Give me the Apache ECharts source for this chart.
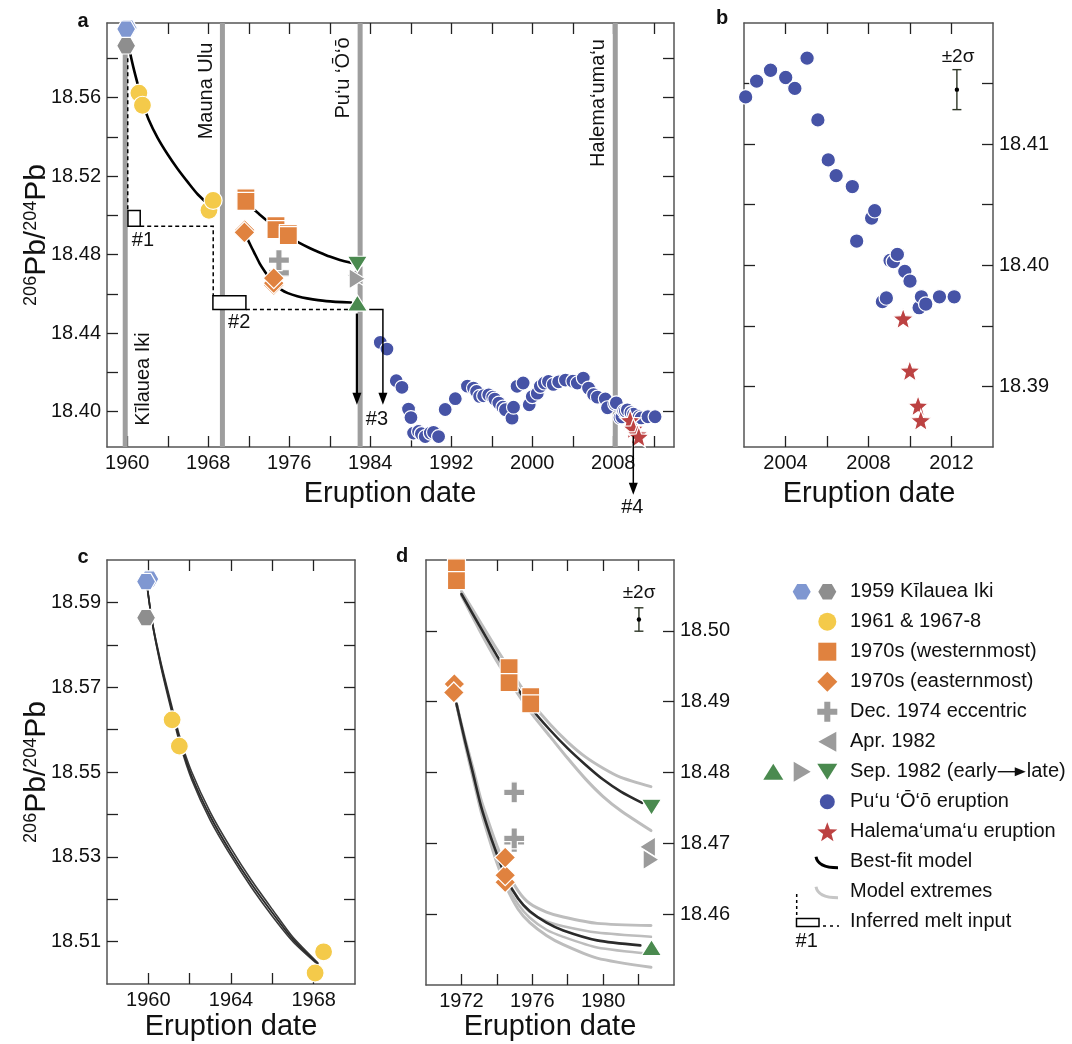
<!DOCTYPE html>
<html>
<head>
<meta charset="utf-8">
<script src="https://cdn.jsdelivr.net/npm/echarts@6/dist/echarts.min.js"></script>
<style>
html,body{margin:0;padding:0;background:#fff}
#fig{width:1072px;height:1044px}
</style>
</head>
<body>
<div id="fig"></div>
<script>
// ---- data (year, 206Pb/204Pb) ----
var kilaueaIkiBlue = [[1960.05, 18.5955], [1959.89, 18.5949]];
var kilaueaIkiGrey = [[1959.89, 18.5864]];
var eruption1961_1967 = [[1961.15, 18.5623], [1961.5, 18.5561], [1968.07, 18.5026], [1968.48, 18.5076]];
var west1970s = [[1971.72, 18.5089], [1971.72, 18.5071], [1974.69, 18.4948], [1974.69, 18.4927], [1975.91, 18.4907], [1975.91, 18.4897]];
var east1970s = [[1971.6, 18.4925], [1971.57, 18.4913], [1974.47, 18.4645], [1974.47, 18.4655], [1974.47, 18.4680]];
var dec1974 = [[1974.98, 18.4702], [1974.98, 18.4707], [1974.98, 18.4772]];
var apr1982 = [[1982.5, 18.4695]];
var sep1982Early = [[1982.73, 18.4553]];
var sep1982Mid = [[1982.71, 18.4677]];
var sep1982Late = [[1982.73, 18.4751]];
var puuOoEarly = [[1984.99,18.4353],[1985.65,18.4319],[1986.57,18.4158],[1987.13,18.4124],[1987.78,18.4013],[1988.02,18.3970],[1988.28,18.3891],[1988.77,18.3899],[1989.05,18.3888],[1989.43,18.3873],[1989.93,18.3891],[1990.25,18.3895],[1990.75,18.3873],[1991.4,18.4011],[1992.4,18.4066],[1993.6,18.4130],[1994.2,18.4120],[1994.5,18.4103],[1994.8,18.4078],[1995.2,18.4081],[1995.7,18.4086],[1996.1,18.4074],[1996.3,18.4064],[1996.7,18.4044],[1997.1,18.4023],[1997.35,18.4010],[1998.0,18.3967],[1998.15,18.4023],[1998.5,18.4129],[1999.1,18.4146],[1999.7,18.4035],[2000.0,18.4077],[2000.5,18.4094],[2000.8,18.4129],[2001.2,18.4146],[2001.6,18.4154]];
var puuOoRecent = [[2002.08,18.4139],[2002.61,18.4152],[2003.28,18.4161],[2004.01,18.4155],[2004.45,18.4146],[2005.04,18.4171],[2005.56,18.4120],[2006.06,18.4087],[2006.44,18.4074],[2007.22,18.4065],[2007.43,18.4020],[2008.15,18.4039],[2008.30,18.4045],[2008.67,18.3970],[2008.86,18.3973],[2009.04,18.4004],[2009.2,18.4003],[2009.39,18.4009],[2009.75,18.3995],[2010.00,18.3987],[2010.44,18.3965],[2010.55,18.3974],[2010.76,18.3968],[2011.42,18.3974],[2012.13,18.3974]];
var halemaumau = [[2009.67, 18.3956], [2009.99, 18.3913], [2010.39, 18.3884], [2010.52, 18.3872]];
var errBarB = [[2012.26, 18.4145, 0.00165]];
var errBarD = [[1982.02, 18.5016, 0.00165]];

// model curves
var fitKilauea = [[1959.95,18.5935],[1960.2,18.5850],[1960.6,18.5755],[1961.1,18.5655],[1961.55,18.5570],[1962.1,18.5490],[1963,18.5395],[1964,18.5310],[1965,18.5235],[1966,18.5168],[1967,18.5105],[1968.2,18.5048]];
var fitKilaueaHi = [[1959.95,18.5935],[1960.2,18.5852],[1960.6,18.5760],[1961.1,18.5662],[1961.55,18.5578],[1962.1,18.5500],[1963,18.5405],[1964,18.5320],[1965,18.5244],[1966,18.5176],[1967,18.5110],[1968.2,18.5050]];
var fitKilaueaLo = [[1959.95,18.5935],[1960.2,18.5848],[1960.6,18.5750],[1961.1,18.5648],[1961.55,18.5563],[1962.1,18.5482],[1963,18.5386],[1964,18.5302],[1965,18.5227],[1966,18.5160],[1967,18.5100],[1968.2,18.5046]];
var fitWest = [[1972.0,18.5052],[1973,18.5008],[1974,18.4965],[1975,18.4925],[1976,18.4889],[1977,18.4860],[1978,18.4834],[1979,18.4811],[1980,18.4790],[1981,18.4773],[1982.2,18.4757]];
var westHi = [[1972.0,18.5056],[1973,18.5015],[1974,18.4974],[1975,18.4935],[1976,18.4898],[1977,18.4868],[1978,18.4843],[1979,18.4822],[1980,18.4806],[1981,18.4793],[1982.7,18.4780]];
var westLo = [[1972.0,18.5050],[1973,18.5002],[1974,18.4957],[1975,18.4918],[1976,18.4882],[1977,18.4851],[1978,18.4820],[1979,18.4791],[1980,18.4766],[1981,18.4746],[1982.7,18.4718]];
var fitEast = [[1971.72,18.4897],[1972.2,18.4845],[1972.66,18.4798],[1973.1,18.4753],[1973.6,18.4713],[1974.0,18.4685],[1974.54,18.4650],[1975.2,18.4622],[1975.86,18.4604],[1976.8,18.4588],[1977.75,18.4577],[1979.66,18.4563],[1982.1,18.4556]];
var eastA = [[1971.72,18.4897],[1972.2,18.4848],[1972.66,18.4805],[1973.1,18.4762],[1973.6,18.4725],[1974.0,18.4697],[1974.54,18.4663],[1975.2,18.4633],[1975.86,18.4615],[1976.8,18.4603],[1977.75,18.4596],[1979.66,18.4587],[1982.7,18.4584]];
var eastB = [[1971.72,18.4897],[1972.2,18.4846],[1972.66,18.4800],[1973.1,18.4756],[1973.6,18.4716],[1974.0,18.4686],[1974.54,18.4652],[1975.2,18.4622],[1975.86,18.4603],[1976.8,18.4590],[1977.75,18.4583],[1979.66,18.4574],[1982.7,18.4568]];
var eastC = [[1971.72,18.4897],[1972.2,18.4843],[1972.66,18.4795],[1973.1,18.4750],[1973.6,18.4708],[1974.0,18.4678],[1974.54,18.4643],[1975.2,18.4614],[1975.86,18.4595],[1976.8,18.4578],[1977.75,18.4568],[1979.66,18.4553],[1982.7,18.4544]];
var eastD = [[1971.72,18.4897],[1972.2,18.4841],[1972.66,18.4792],[1973.1,18.4746],[1973.6,18.4704],[1974.0,18.4673],[1974.54,18.4638],[1975.2,18.4607],[1975.86,18.4588],[1976.8,18.4570],[1977.75,18.4557],[1979.66,18.4538],[1982.7,18.4525]];

// eruption onsets (grey bars in a)
var onsetYears = [1959.8, 1969.4, 1983.0, 2008.2];
var onsetNames = ['Kīlauea Iki', 'Mauna Ulu', 'Pu‘u ‘Ō‘ō', 'Halema‘uma‘u'];

// inferred melt input (panel a)
var meltBox1 = [[1960.07, 18.5025], [1961.28, 18.4945]];
var meltBox2 = [[1968.46, 18.4591], [1971.72, 18.4520]];
var meltDash1 = [[1960.05, 18.5800], [1960.05, 18.5025]];
var meltDash2 = [[1961.28, 18.4945], [1968.49, 18.4945], [1968.49, 18.4591]];
var meltDash3 = [[1971.72, 18.4520], [1981.8, 18.4520]];
var meltArrow3 = [[1983.9, 18.4520], [1985.25, 18.4520], [1985.25, 18.4035]];
var meltArrowSep = [[1982.68, 18.4500], [1982.68, 18.4035]];
var meltArrow4 = [[2009.98, 18.3875], [2009.98, 18.3577]];
var meltTags = [['#1', 1961.55, 18.4873], ['#2', 1971.06, 18.4452], ['#3', 1984.66, 18.3959], ['#4', 2009.88, 18.3511]];

// ticks
var aXTicks = [1960,1964,1968,1972,1976,1980,1984,1988,1992,1996,2000,2004,2008,2012];
var aXLabels = [1960,1968,1976,1984,1992,2000,2008];
var aYTicks = [18.40,18.42,18.44,18.46,18.48,18.50,18.52,18.54,18.56,18.58];
var aYLabels = [18.40,18.44,18.48,18.52,18.56];
var bXTicks = [2004,2006,2008,2010,2012];
var bXLabels = [2004,2008,2012];
var bYTicks = [18.39,18.395,18.40,18.405,18.41,18.415];
var bYLabels = [18.39,18.40,18.41];
var cXTicks = [1960,1962,1964,1966,1968];
var cXLabels = [1960,1964,1968];
var cYTicks = [18.51,18.52,18.53,18.54,18.55,18.56,18.57,18.58,18.59];
var cYLabels = [18.51,18.53,18.55,18.57,18.59];
var dXTicks = [1972,1974,1976,1978,1980,1982];
var dXLabels = [1972,1976,1980];
var dYTicks = [18.46,18.47,18.48,18.49,18.50];
var dYLabels = [18.46,18.47,18.48,18.49,18.50];

// ---- styles ----
var F = '"Liberation Sans", Arial, Helvetica, sans-serif';
var FS = 20;
var C = {
    blueHex: '#7f97d1', greyHex: '#8e8e8e', yellow: '#f4ca4a', orange: '#e0823f',
    cross: '#9c9c9c', greyTri: '#9b9b9b', green: '#4a8a4f', puu: '#4653a6', star: '#bc4242'
};
function starPts(cx, cy, R) {
    var pts = [];
    for (var i = 0; i < 10; i++) {
        var a = -Math.PI / 2 + i * Math.PI / 5;
        var r = i % 2 ? R * 0.42 : R;
        pts.push([cx + r * Math.cos(a), cy + r * Math.sin(a)]);
    }
    return pts;
}
var HEX = 'path://M0,8 L4.6,0 L13.9,0 L18.5,8 L13.9,16 L4.6,16 Z';
var CROSS = 'path://M7,0 H13 V7 H20 V13 H13 V20 H7 V13 H0 V7 H7 Z';
var TRI_UP = 'path://M10,0 L20,16 L0,16 Z';
var TRI_DN = 'path://M0,0 L20,0 L10,16 Z';
var TRI_L = 'path://M0,10 L16,0 L16,20 Z';
var TRI_R = 'path://M0,0 L16,10 L0,20 Z';
var STAR = 'path://M' + starPts(10, 10, 10).map(function (p) { return p[0].toFixed(2) + ',' + p[1].toFixed(2); }).join(' L') + ' Z';

function axis(grid, pos, min, max, ticks, labels, dec) {
    return {
        type: 'value', gridIndex: grid, position: pos, min: min, max: max,
        axisLine: { show: true, onZero: false, lineStyle: { color: '#555', width: 1.5 } },
        axisTick: { show: true, inside: true, length: 11, customValues: ticks, lineStyle: { color: '#222', width: 1.3 } },
        axisLabel: labels ? {
            show: true, customValues: labels, fontFamily: F, fontSize: FS, color: '#111', margin: 6,
            formatter: function (v) { return v.toFixed(dec); }
        } : { show: false },
        splitLine: { show: false }
    };
}

function sc(xi, yi, data, symbol, size, color, z) {
    return {
        type: 'scatter', xAxisIndex: xi, yAxisIndex: yi, data: data, symbol: symbol, symbolSize: size,
        itemStyle: { color: color, borderColor: '#fff', borderWidth: 1.2, opacity: 1 },
        z: z || 4, silent: true, clip: false
    };
}
function ln(xi, yi, data, color, width, z) {
    return {
        type: 'line', xAxisIndex: xi, yAxisIndex: yi, data: data, showSymbol: false, symbol: 'none',
        smooth: 0.25, lineStyle: { color: color, width: width, cap: 'round', join: 'round' },
        z: z || 2, silent: true
    };
}
function errBar(xi, yi, data) {
    return {
        type: 'custom', xAxisIndex: xi, yAxisIndex: yi, data: data, z: 5, silent: true,
        renderItem: function (params, api) {
            var x = api.value(0), y = api.value(1), e = api.value(2);
            var c = api.coord([x, y]), t = api.coord([x, y + e]), b = api.coord([x, y - e]);
            var st = { stroke: '#2d3526', lineWidth: 1.4 };
            return { type: 'group', children: [
                { type: 'line', shape: { x1: c[0], y1: t[1], x2: c[0], y2: b[1] }, style: st },
                { type: 'line', shape: { x1: c[0] - 4.5, y1: t[1], x2: c[0] + 4.5, y2: t[1] }, style: st },
                { type: 'line', shape: { x1: c[0] - 4.5, y1: b[1], x2: c[0] + 4.5, y2: b[1] }, style: st },
                { type: 'circle', shape: { cx: c[0], cy: c[1], r: 2.2 }, style: { fill: '#000' } }
            ] };
        }
    };
}

var chart = echarts.init(document.getElementById('fig'), null, { renderer: 'canvas' });

var option = {
    animation: false,
    backgroundColor: '#fff',
    grid: [
        { left: 107, top: 23, width: 567, height: 424 },
        { left: 744, top: 23, width: 249, height: 424 },
        { left: 107, top: 560, width: 248, height: 424 },
        { left: 426, top: 560, width: 248, height: 425 }
    ],
    xAxis: [
        axis(0, 'bottom', 1958, 2014, aXTicks, aXLabels, 0),
        axis(0, 'top', 1958, 2014, aXTicks, null),
        axis(1, 'bottom', 2002, 2014, bXTicks, bXLabels, 0),
        axis(1, 'top', 2002, 2014, bXTicks, null),
        axis(2, 'bottom', 1958, 1970, cXTicks, cXLabels, 0),
        axis(2, 'top', 1958, 1970, cXTicks, null),
        axis(3, 'bottom', 1970, 1984, dXTicks, dXLabels, 0),
        axis(3, 'top', 1970, 1984, dXTicks, null)
    ],
    yAxis: [
        axis(0, 'left', 18.382, 18.598, aYTicks, aYLabels, 2),
        axis(0, 'right', 18.382, 18.598, aYTicks, null),
        axis(1, 'left', 18.385, 18.42, bYTicks, null),
        axis(1, 'right', 18.385, 18.42, bYTicks, bYLabels, 2),
        axis(2, 'left', 18.50, 18.60, cYTicks, cYLabels, 2),
        axis(2, 'right', 18.50, 18.60, cYTicks, null),
        axis(3, 'left', 18.45, 18.51, dYTicks, null),
        axis(3, 'right', 18.45, 18.51, dYTicks, dYLabels, 2)
    ],
    series: [
        // ---- a ----
        {
            type: 'custom', xAxisIndex: 0, yAxisIndex: 0, z: 1, silent: true,
            data: onsetYears.map(function (v) { return [v]; }),
            renderItem: function (params, api) {
                var cs = params.coordSys;
                var x = api.coord([api.value(0), 18.5])[0];
                return { type: 'rect', shape: { x: x - 2.5, y: cs.y, width: 5, height: cs.height }, style: { fill: '#9e9e9e' } };
            }
        },
        ln(0, 0, fitKilauea, '#000', 2.6),
        ln(0, 0, fitWest, '#000', 2.6),
        ln(0, 0, fitEast, '#000', 2.6),
        sc(0, 0, puuOoEarly.concat(puuOoRecent), 'circle', 14, C.puu),
        sc(0, 0, halemaumau, STAR, 21, C.star, 5),
        sc(0, 0, kilaueaIkiGrey, HEX, [19, 16.5], C.greyHex),
        sc(0, 0, kilaueaIkiBlue, HEX, [19, 16.5], C.blueHex),
        sc(0, 0, eruption1961_1967, 'circle', 18, C.yellow),
        sc(0, 0, west1970s, 'rect', 18, C.orange),
        sc(0, 0, dec1974, CROSS, 21, C.cross),
        sc(0, 0, east1970s, 'diamond', 21, C.orange),
        sc(0, 0, apr1982, TRI_L, [16, 20], C.greyTri),
        sc(0, 0, sep1982Mid, TRI_R, [16, 20], C.greyTri),
        sc(0, 0, sep1982Late, TRI_DN, [20, 16], C.green),
        sc(0, 0, sep1982Early, TRI_UP, [20, 16], C.green),
        // ---- b ----
        sc(2, 3, puuOoRecent, 'circle', 14.5, C.puu),
        sc(2, 3, halemaumau, STAR, 21, C.star, 5),
        errBar(2, 3, errBarB),
        // ---- c ----
        ln(4, 4, fitKilaueaHi, '#3a3a3a', 1.6),
        ln(4, 4, fitKilaueaLo, '#3a3a3a', 1.6),
        ln(4, 4, fitKilauea, '#2a2a2a', 1.8),
        sc(4, 4, kilaueaIkiGrey, HEX, [19, 16.5], C.greyHex),
        sc(4, 4, kilaueaIkiBlue, HEX, [19, 16.5], C.blueHex),
        sc(4, 4, eruption1961_1967, 'circle', 18, C.yellow),
        // ---- d ----
        ln(6, 7, westHi, '#bdbdbd', 3),
        ln(6, 7, westLo, '#bdbdbd', 3),
        ln(6, 7, eastA, '#bdbdbd', 3),
        ln(6, 7, eastB, '#bdbdbd', 2.5),
        ln(6, 7, eastC, '#bdbdbd', 2.5),
        ln(6, 7, eastD, '#bdbdbd', 3),
        ln(6, 7, fitWest, '#2b2b2b', 2.6, 3),
        ln(6, 7, fitEast, '#2b2b2b', 2.6, 3),
        sc(6, 7, west1970s, 'rect', 18, C.orange),
        sc(6, 7, dec1974, CROSS, 21, C.cross),
        sc(6, 7, east1970s, 'diamond', 21, C.orange),
        sc(6, 7, apr1982, TRI_L, [16, 20], C.greyTri),
        sc(6, 7, sep1982Mid, TRI_R, [16, 20], C.greyTri),
        sc(6, 7, sep1982Late, TRI_DN, [20, 16], C.green),
        sc(6, 7, sep1982Early, TRI_UP, [20, 16], C.green),
        errBar(6, 7, errBarD)
    ]
};
chart.setOption(option);

// ---- texts, annotations and legend ----
function txt(x, y, s, size, extra) {
    var o = { type: 'text', x: x, y: y, silent: true, z: 10,
        style: { text: s, font: (extra && extra.weight ? extra.weight + ' ' : '') + size + 'px ' + F,
            fill: '#111', textAlign: (extra && extra.align) || 'center', textVerticalAlign: 'middle' } };
    if (extra && extra.rot) o.rotation = extra.rot;
    return o;
}
var g = [];
// panel letters
g.push(txt(83, 21, 'a', 20, { weight: 'bold' }));
g.push(txt(722, 18, 'b', 20, { weight: 'bold' }));
g.push(txt(83, 557, 'c', 20, { weight: 'bold' }));
g.push(txt(402, 556, 'd', 20, { weight: 'bold' }));
// axis titles
g.push(txt(390, 494, 'Eruption date', 29));
g.push(txt(869, 494, 'Eruption date', 29));
g.push(txt(231, 1027, 'Eruption date', 29));
g.push(txt(550, 1027, 'Eruption date', 29));
function yTitle(x, y) {
    return { type: 'text', x: x, y: y, rotation: Math.PI / 2, silent: true, z: 10,
        style: { text: '{s|206}{b|Pb/}{s|204}{b|Pb}', textAlign: 'center', textVerticalAlign: 'middle', fill: '#111',
            rich: { s: { fontSize: 18, fontFamily: F, verticalAlign: 'top', lineHeight: 30, fill: '#111' },
                b: { fontSize: 30, fontFamily: F, lineHeight: 30, fill: '#111' } } } };
}
g.push(yTitle(37, 235));
g.push(yTitle(37, 772));
// ±2σ
g.push(txt(958, 57, '±2σ', 19));
g.push(txt(639, 593, '±2σ', 19));
// eruption bar labels
var onsetLabelPos = [[143, 379], [206.7, 91], [343.3, 78], [598, 103]];
onsetNames.forEach(function (n, i) {
    g.push(txt(onsetLabelPos[i][0], onsetLabelPos[i][1], n, 20, { rot: Math.PI / 2 }));
});

// melt input annotation (data coordinates of panel a)
function P(p) { return chart.convertToPixel({ xAxisIndex: 0, yAxisIndex: 0 }, p); }
function poly(pts, dash, w) {
    return { type: 'polyline', silent: true, z: 6, shape: { points: pts.map(P) },
        style: { stroke: '#000', lineWidth: w || 1.5, lineDash: dash ? [4, 3] : null, fill: null } };
}
function head(tip) {
    var t = P(tip);
    return { type: 'polygon', silent: true, z: 6, shape: { points: [[t[0], t[1]], [t[0] - 4.5, t[1] - 12], [t[0] + 4.5, t[1] - 12]] }, style: { fill: '#000' } };
}
function box(b) {
    var p1 = P(b[0]), p2 = P(b[1]);
    return { type: 'rect', silent: true, z: 6, shape: { x: p1[0], y: p1[1], width: p2[0] - p1[0], height: p2[1] - p1[1] },
        style: { fill: '#fff', stroke: '#000', lineWidth: 1.5 } };
}
g.push(poly(meltDash1, true));
g.push(poly(meltDash2, true));
g.push(poly(meltDash3, true));
g.push(box(meltBox1));
g.push(box(meltBox2));
var a3 = meltArrow3.slice(); var tip3 = a3[a3.length - 1];
g.push(poly(a3.slice(0, 2).concat([[tip3[0], tip3[1] + 0.005]]), false, 1.5));
g.push(head(tip3));
g.push(poly([meltArrowSep[0], [meltArrowSep[1][0], meltArrowSep[1][1] + 0.005]], false, 2.2));
g.push(head(meltArrowSep[1]));
g.push(poly([meltArrow4[0], [meltArrow4[1][0], meltArrow4[1][1] + 0.005]], false, 1.5));
g.push(head(meltArrow4[1]));
meltTags.forEach(function (t) {
    var p = P([t[1], t[2]]);
    g.push(txt(p[0], p[1], t[0], FS));
});

// legend
var LX = 827.3, TX = 850;
function ly(r) { return 591.7 + 30 * r; }
function hexPts(cx, cy, w, h) {
    return [[cx - w / 2, cy], [cx - w / 4, cy - h / 2], [cx + w / 4, cy - h / 2], [cx + w / 2, cy], [cx + w / 4, cy + h / 2], [cx - w / 4, cy + h / 2]];
}
function pg(pts, color) { return { type: 'polygon', silent: true, z: 8, shape: { points: pts }, style: { fill: color } }; }
g.push(pg(hexPts(801.7, ly(0), 18, 15.5), C.blueHex));
g.push(pg(hexPts(LX, ly(0), 18, 15.5), C.greyHex));
g.push({ type: 'circle', silent: true, z: 8, shape: { cx: LX, cy: ly(1), r: 9 }, style: { fill: C.yellow } });
g.push({ type: 'rect', silent: true, z: 8, shape: { x: LX - 9, y: ly(2) - 9, width: 18, height: 18 }, style: { fill: C.orange } });
g.push(pg([[LX, ly(3) - 10], [LX + 10, ly(3)], [LX, ly(3) + 10], [LX - 10, ly(3)]], C.orange));
(function () {
    var y = ly(4), a = 3, b = 10;
    g.push(pg([[LX - a, y - b], [LX + a, y - b], [LX + a, y - a], [LX + b, y - a], [LX + b, y + a], [LX + a, y + a], [LX + a, y + b], [LX - a, y + b], [LX - a, y + a], [LX - b, y + a], [LX - b, y - a], [LX - a, y - a]], C.cross));
})();
g.push(pg([[LX - 9, ly(5)], [LX + 9, ly(5) - 10], [LX + 9, ly(5) + 10]], C.greyTri));
g.push(pg([[773.3, ly(6) - 8], [783.3, ly(6) + 8], [763.3, ly(6) + 8]], C.green));
g.push(pg([[793.7, ly(6) - 10], [810.7, ly(6)], [793.7, ly(6) + 10]], C.greyTri));
g.push(pg([[LX - 10, ly(6) - 8], [LX + 10, ly(6) - 8], [LX, ly(6) + 8]], C.green));
g.push({ type: 'circle', silent: true, z: 8, shape: { cx: LX, cy: ly(7), r: 7.5 }, style: { fill: C.puu } });
g.push(pg(starPts(LX, ly(8) + 1, 10.5), C.star));
g.push({ type: 'bezierCurve', silent: true, z: 8, shape: { x1: 816, y1: ly(9) - 5, cpx1: 818, cpy1: ly(9) + 6, x2: 838, y2: ly(9) + 6 }, style: { stroke: '#000', lineWidth: 3, fill: null } });
g.push({ type: 'bezierCurve', silent: true, z: 8, shape: { x1: 816, y1: ly(10) - 5, cpx1: 818, cpy1: ly(10) + 6, x2: 838, y2: ly(10) + 6 }, style: { stroke: '#c6c6c6', lineWidth: 3, fill: null } });
g.push({ type: 'line', silent: true, z: 8, shape: { x1: 796.7, y1: 894, x2: 796.7, y2: 917 }, style: { stroke: '#000', lineWidth: 1.5, lineDash: [3, 3] } });
g.push({ type: 'rect', silent: true, z: 8, shape: { x: 796.5, y: 918.5, width: 22.5, height: 8 }, style: { fill: '#fff', stroke: '#000', lineWidth: 1.5 } });
g.push({ type: 'line', silent: true, z: 8, shape: { x1: 823, y1: 926, x2: 839, y2: 926 }, style: { stroke: '#000', lineWidth: 1.5, lineDash: [3, 4] } });
g.push(txt(806.7, 941.7, '#1', FS));

var legendTexts = ['1959 Kīlauea Iki', '1961 & 1967-8', '1970s (westernmost)', '1970s (easternmost)', 'Dec. 1974 eccentric', 'Apr. 1982', null, 'Pu‘u ‘Ō‘ō eruption', 'Halema‘uma‘u eruption', 'Best-fit model', 'Model extremes', 'Inferred melt input'];
legendTexts.forEach(function (s, i) {
    if (s) g.push(txt(TX, ly(i), s, FS, { align: 'left' }));
});
(function () {
    var ctx = document.createElement('canvas').getContext('2d');
    ctx.font = FS + 'px ' + F;
    var s1 = 'Sep. 1982 (early';
    var w1 = ctx.measureText(s1).width;
    var y = ly(6);
    g.push(txt(TX, y, s1, FS, { align: 'left' }));
    var x0 = TX + w1 + 1, x1 = x0 + 28;
    g.push({ type: 'line', silent: true, z: 8, shape: { x1: x0, y1: y, x2: x1 - 8, y2: y }, style: { stroke: '#111', lineWidth: 1.4 } });
    g.push(pg([[x1, y], [x1 - 11, y - 4.5], [x1 - 11, y + 4.5]], '#111'));
    g.push(txt(x1 + 1, y, 'late)', FS, { align: 'left' }));
})();

chart.setOption({ graphic: { elements: g } });
</script>
</body>
</html>
